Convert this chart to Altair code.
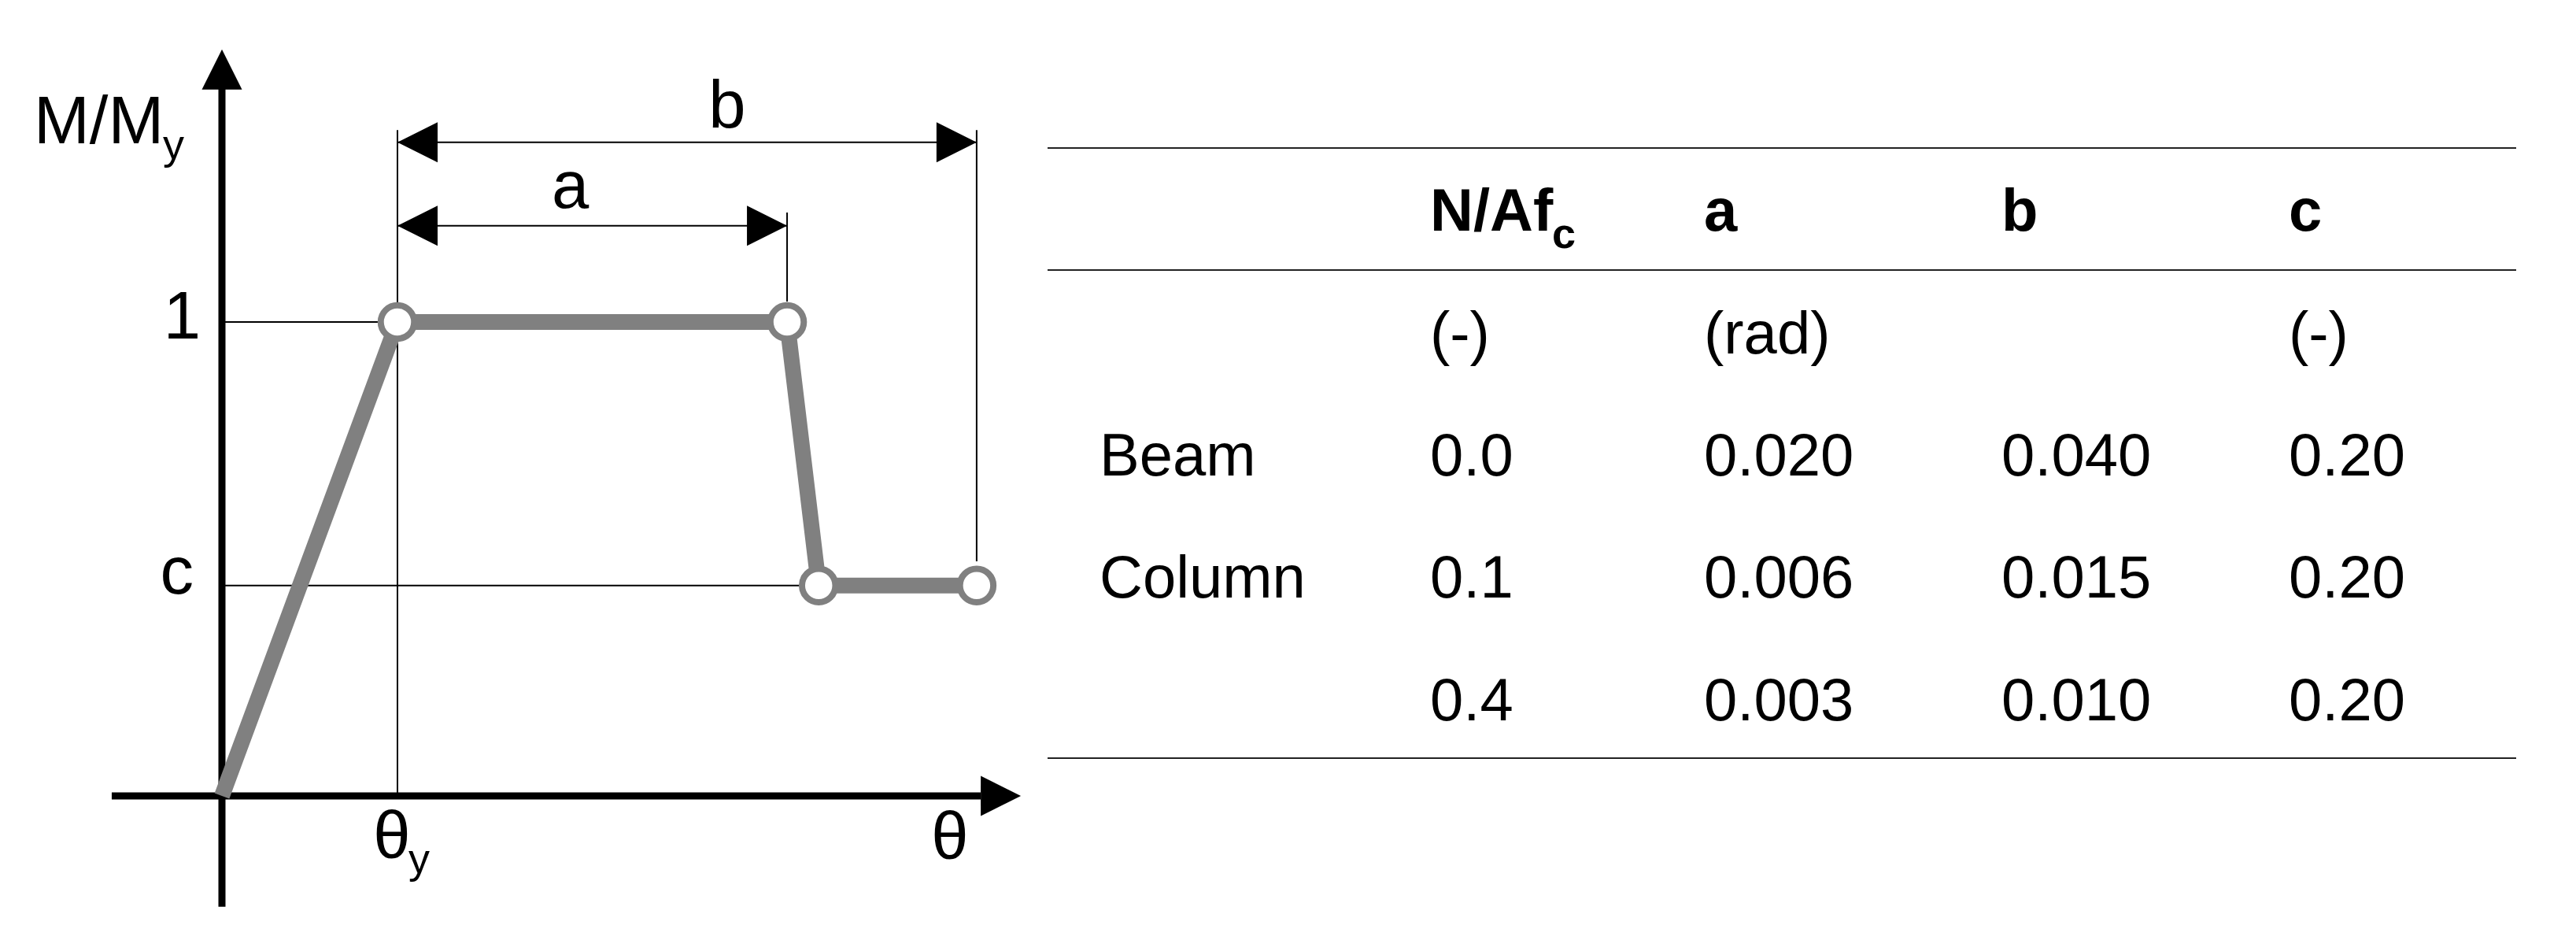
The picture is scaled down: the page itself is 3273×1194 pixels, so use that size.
import altair as alt
import pandas as pd

# ---------------- left: idealised moment-rotation backbone ----------------
# normalised units: theta / theta_y  and  M / M_y
theta_pts = [0.0, 1.0, 3.22, 3.40, 4.30]
moment_pts = [0.0, 1.0, 1.0, 0.444, 0.444]
theta_y = 1.0
c_level = 0.444
a_end = 3.22
drop_end = 3.40
b_end = 4.30

# drawn axes (start, shaft end, arrow tip) in the same units
theta_axis = [-0.628, 4.323, 4.552]
moment_axis = [-0.234, 1.492, 1.575]
# dimension lines and extension lines
dim_a_level = 1.203
dim_b_level = 1.379
ext_top = 1.405
ext_a = [1.231, 1.043]
ext_b_bottom = 0.495

# ---------------- right: parameter table ----------------
col_keys = ["member", "n", "a", "b", "c"]
header = ["", "N/Af", "a", "b", "c"]
units = ["", "(-)", "(rad)", "", "(-)"]
members = ["Beam", "Column", ""]
n_ratio = ["0.0", "0.1", "0.4"]
a_vals = ["0.020", "0.006", "0.003"]
b_vals = ["0.040", "0.015", "0.010"]
c_vals = ["0.20", "0.20", "0.20"]
table_rule_rows = [-0.675, 0.322, 4.309]

FONT = "Liberation Sans"
GREY = "#808080"
W1, W2, H, SP = 1300, 1866, 1178, 23

XS = alt.Scale(domain=[-1.2287, 4.6009], nice=False, zero=False)
YS = alt.Scale(domain=[-0.2907, 1.6661], nice=False, zero=False)


def X(f):
    return alt.X(f, type="quantitative", scale=XS, axis=None)


def Y(f):
    return alt.Y(f, type="quantitative", scale=YS, axis=None)


def segs(rows, width):
    df = pd.DataFrame(rows, columns=["x0", "y0", "x1", "y1"])
    return alt.Chart(df).mark_rule(color="black", strokeWidth=width).encode(
        x=X("x0"), y=Y("y0"), x2=alt.X2("x1"), y2=alt.Y2("y1")
    )


def pts(rows):
    return pd.DataFrame(rows, columns=["t", "m"])


thin = segs(
    [
        (0, 1.0, theta_y, 1.0),
        (0, c_level, drop_end, c_level),
        (theta_y, 0, theta_y, ext_top),
        (a_end, ext_a[0], a_end, ext_a[1]),
        (b_end, ext_top, b_end, ext_b_bottom),
        (theta_y, dim_a_level, a_end, dim_a_level),
        (theta_y, dim_b_level, b_end, dim_b_level),
    ],
    2,
)

axes = segs(
    [
        (theta_axis[0], 0, theta_axis[1], 0),
        (0, moment_axis[0], 0, moment_axis[1]),
    ],
    9,
)

ARROW_SIZE = 51 * 51


def arrows(rows, path):
    return alt.Chart(pts(rows)).mark_point(
        shape=path, filled=True, color="black", opacity=1, size=ARROW_SIZE, strokeWidth=0
    ).encode(x=X("t"), y=Y("m"))


arr_right = arrows(
    [(theta_axis[2], 0), (a_end, dim_a_level), (b_end, dim_b_level)], "M0,0L-2,-1L-2,1Z"
)
arr_left = arrows([(theta_y, dim_a_level), (theta_y, dim_b_level)], "M0,0L2,-1L2,1Z")
arr_up = arrows([(0, moment_axis[2])], "M0,0L-1,2L1,2Z")

curve_df = pd.DataFrame({"t": theta_pts, "m": moment_pts, "i": range(len(theta_pts))})
curve = alt.Chart(curve_df).mark_line(color=GREY, strokeWidth=20).encode(
    x=X("t"), y=Y("m"), order="i:Q"
)
nodes = alt.Chart(curve_df[curve_df["i"] > 0]).mark_point(
    shape="circle", filled=True, fill="white", stroke=GREY, strokeWidth=8, size=1806, opacity=1
).encode(x=X("t"), y=Y("m"))


def label(t, m, text, size, align, dx, dy):
    df = pd.DataFrame({"t": [t], "m": [m], "s": [text]})
    return alt.Chart(df).mark_text(
        font=FONT, fontSize=size, align=align, baseline="alphabetic", dx=dx, dy=dy, color="black"
    ).encode(x=X("t"), y=Y("m"), text="s:N")


labels = [
    label(0, moment_axis[2], "M/M", 85, "left", -239, 119),
    label(0, moment_axis[2], "y", 54, "left", -75, 139),
    label(0, 1.0, "1", 85, "right", -27, 21),
    label(0, c_level, "c", 85, "right", -36, 10),
    label(theta_y, 0, "θ", 85, "center", -7, 79),
    label(theta_y, 0, "y", 54, "left", 14, 98),
    label(b_end, 0, "θ", 85, "center", -34, 80),
    label((theta_y + a_end) / 2, dim_a_level, "a", 85, "center", -28, -23),
    label((theta_y + b_end) / 2, dim_b_level, "b", 85, "center", 51, -19),
]

left = alt.layer(thin, axes, arr_right, arr_left, arr_up, curve, nodes, *labels).properties(
    width=W1, height=H
)

# ---------------- table panel ----------------
recs = []
for j, k in enumerate(col_keys):
    recs.append({"col": j, "row": 0, "s": header[j], "bold": True})
    recs.append({"col": j, "row": 1, "s": units[j], "bold": False})
body = [members, n_ratio, a_vals, b_vals, c_vals]
for j, k in enumerate(col_keys):
    for r, v in enumerate(body[j]):
        recs.append({"col": j, "row": r + 2, "s": v, "bold": False})
tdf = pd.DataFrame(recs)
tdf = tdf[tdf["s"] != ""]

# piecewise-linear column scale: column index -> left edge of the column
TX = alt.Scale(domain=[0, 1, 2, 3, 4], range=[66, 486, 834, 1212, 1577], nice=False, zero=False)
TY = alt.Scale(domain=[-1.833, 5.743], reverse=True, nice=False, zero=False)

tx = alt.X("col:Q", scale=TX, axis=None)
ty = alt.Y("row:Q", scale=TY, axis=None)

regular = alt.Chart(tdf[~tdf["bold"]]).mark_text(
    font=FONT, fontSize=76, align="left", baseline="alphabetic", color="black"
).encode(x=tx, y=ty, text="s:N")
bold = alt.Chart(tdf[tdf["bold"]]).mark_text(
    font=FONT, fontSize=76, fontWeight="bold", align="left", baseline="alphabetic", color="black"
).encode(x=tx, y=ty, text="s:N")
sub_c = alt.Chart(pd.DataFrame({"col": [1], "row": [0], "s": ["c"]})).mark_text(
    font=FONT, fontSize=54, fontWeight="bold", align="left", baseline="alphabetic",
    dx=155, dy=22, color="black"
).encode(x=tx, y=ty, text="s:N")
rules = alt.Chart(pd.DataFrame({"row": table_rule_rows})).mark_rule(
    color="#222222", strokeWidth=2
).encode(y=ty)

right = alt.layer(rules, regular, bold, sub_c).properties(width=W2, height=H)

chart = (
    alt.hconcat(left, right, spacing=SP, bounds="flush")
    .properties(padding=0, background="white")
    .configure_view(stroke=None)
)

chart.save("out.html", embed_options={"renderer": "svg", "actions": False})
